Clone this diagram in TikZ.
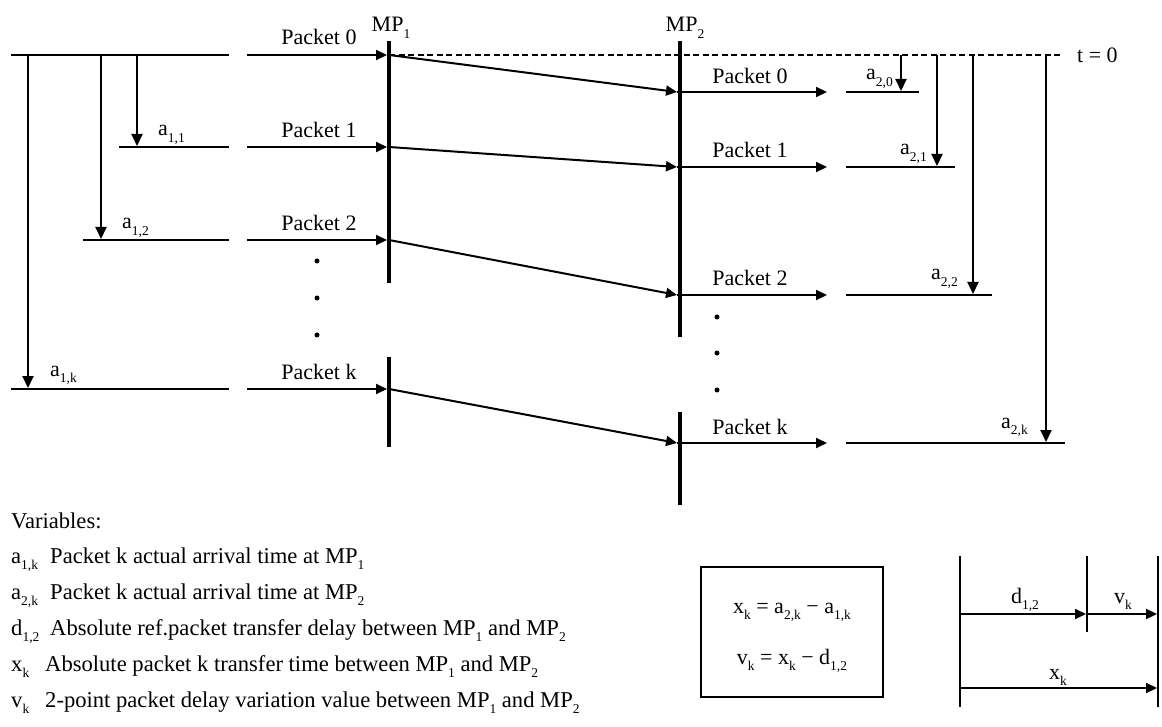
\documentclass[tikz,border=0pt]{standalone}
\usepackage{fontspec}
\setmainfont{Liberation Serif}
\usetikzlibrary{arrows.meta}
\newcommand\sbs[1]{\raisebox{-0.3em}{\fontsize{13.5}{13.5}\selectfont #1}}
\begin{document}
\begin{tikzpicture}[x=1pt,y=-1pt,
  txt/.style={font=\fontsize{22}{26}\selectfont, inner sep=0pt},
  vtxt/.style={font=\fontsize{22.6}{26}\selectfont, inner sep=0pt},
  tline/.style={line width=2.6pt},
  mpline/.style={line width=4.6pt},
  parrow/.style={line width=2pt,-{Triangle[length=11pt,width=10pt]}},
  varrow/.style={line width=2pt,-{Triangle[length=12pt,width=11pt]}},
  tdash/.style={line width=2pt,dash pattern=on 6pt off 3.5pt},
  dotn/.style={circle,fill,inner sep=0pt,minimum size=5pt},
  boxline/.style={line width=2.4pt}]
\useasboundingbox (0,0) rectangle (1162,727);

% ---------- left (MP1 side) timelines ----------
\coordinate (l0a) at (11,55);  \coordinate (l0b) at (229,55);
\coordinate (l1a) at (119,147); \coordinate (l1b) at (229,147);
\coordinate (l2a) at (83,240);  \coordinate (l2b) at (229,240);
\coordinate (lka) at (11,389);  \coordinate (lkb) at (229,389);
\draw[tline] (l0a) -- (l0b);
\draw[tline] (l1a) -- (l1b);
\draw[tline] (l2a) -- (l2b);
\draw[tline] (lka) -- (lkb);

\coordinate (v1s) at (137,55); \coordinate (v1e) at (137,146);
\coordinate (v2s) at (101,55); \coordinate (v2e) at (101,239);
\coordinate (vks) at (28,55);  \coordinate (vke) at (28,388);
\draw[varrow] (v1s) -- (v1e);
\draw[varrow] (v2s) -- (v2e);
\draw[varrow] (vks) -- (vke);
\node[txt,anchor=base west] (a11) at (158,136) {a\sbs{1,1}};
\node[txt,anchor=base west] (a12) at (122,229) {a\sbs{1,2}};
\node[txt,anchor=base west] (a1k) at (50,376) {a\sbs{1,k}};

% ---------- MP1 ----------
\coordinate (mp1t) at (389,41);  \coordinate (mp1m) at (389,283);
\coordinate (mp1n) at (389,357); \coordinate (mp1b) at (389,447);
\draw[mpline] (mp1t) -- (mp1m);
\draw[mpline] (mp1n) -- (mp1b);
\node[txt,anchor=base] (mp1) at (391,32) {MP\sbs{1}};
\coordinate (m10) at (389,55);  \coordinate (m11) at (389,147);
\coordinate (m12) at (389,240); \coordinate (m1k) at (389,389);

\coordinate (p0s) at (247,55);  \coordinate (p0e) at (387,55);
\coordinate (p1s) at (247,147); \coordinate (p1e) at (387,147);
\coordinate (p2s) at (247,240); \coordinate (p2e) at (387,240);
\coordinate (pks) at (247,389); \coordinate (pke) at (387,389);
\draw[parrow] (p0s) -- (p0e);
\draw[parrow] (p1s) -- (p1e);
\draw[parrow] (p2s) -- (p2e);
\draw[parrow] (pks) -- (pke);
\node[txt,anchor=base] (pk0) at (319,45) {Packet 0};
\node[txt,anchor=base] (pk1) at (319,138) {Packet 1};
\node[txt,anchor=base] (pk2) at (319,231) {Packet 2};
\node[txt,anchor=base] (pkk) at (319,379) {Packet k};
\node[dotn] (d1a) at (317,261) {};
\node[dotn] (d1b) at (317,298) {};
\node[dotn] (d1c) at (317,335) {};

% ---------- MP2 ----------
\coordinate (mp2t) at (680,41);  \coordinate (mp2m) at (680,337);
\coordinate (mp2n) at (680,412); \coordinate (mp2b) at (680,505);
\draw[mpline] (mp2t) -- (mp2m);
\draw[mpline] (mp2n) -- (mp2b);
\node[txt,anchor=base] (mp2) at (685,32) {MP\sbs{2}};
\coordinate (m20) at (677,92);  \coordinate (m21) at (677,167);
\coordinate (m22) at (677,295); \coordinate (m2k) at (677,443);
\draw[parrow] (m10) -- (m20);
\draw[parrow] (m11) -- (m21);
\draw[parrow] (m12) -- (m22);
\draw[parrow] (m1k) -- (m2k);

\coordinate (q0e) at (827,92);  \coordinate (q1e) at (827,167);
\coordinate (q2e) at (827,295); \coordinate (qke) at (827,443);
\draw[parrow] (m20) -- (q0e);
\draw[parrow] (m21) -- (q1e);
\draw[parrow] (m22) -- (q2e);
\draw[parrow] (m2k) -- (qke);
\node[txt,anchor=base] (qk0) at (750,84) {Packet 0};
\node[txt,anchor=base] (qk1) at (750,158) {Packet 1};
\node[txt,anchor=base] (qk2) at (750,286) {Packet 2};
\node[txt,anchor=base] (qkk) at (750,434) {Packet k};
\node[dotn] (d2a) at (717,317) {};
\node[dotn] (d2b) at (717,353) {};
\node[dotn] (d2c) at (717,390) {};

% ---------- t = 0 reference ----------
\coordinate (t0e) at (1062,55);
\draw[tdash] (m10) -- (t0e);
\node[txt,anchor=west] (t0) at (1077,55) {t = 0};

% ---------- right (MP2 side) timelines ----------
\coordinate (r0a) at (846,92);  \coordinate (r0b) at (919,92);
\coordinate (r1a) at (846,167); \coordinate (r1b) at (955,167);
\coordinate (r2a) at (846,295); \coordinate (r2b) at (992,295);
\coordinate (rka) at (846,443); \coordinate (rkb) at (1065,443);
\draw[tline] (r0a) -- (r0b);
\draw[tline] (r1a) -- (r1b);
\draw[tline] (r2a) -- (r2b);
\draw[tline] (rka) -- (rkb);

\coordinate (w0s) at (901,55);  \coordinate (w0e) at (901,91);
\coordinate (w1s) at (937,55);  \coordinate (w1e) at (937,166);
\coordinate (w2s) at (973,55);  \coordinate (w2e) at (973,294);
\coordinate (wks) at (1046,55); \coordinate (wke) at (1046,442);
\draw[varrow] (w0s) -- (w0e);
\draw[varrow] (w1s) -- (w1e);
\draw[varrow] (w2s) -- (w2e);
\draw[varrow] (wks) -- (wke);
\node[txt,anchor=base west] (a20) at (866,80) {a\sbs{2,0}};
\node[txt,anchor=base west] (a21) at (900,155) {a\sbs{2,1}};
\node[txt,anchor=base west] (a22) at (931,280) {a\sbs{2,2}};
\node[txt,anchor=base west] (a2k) at (1001,428) {a\sbs{2,k}};

% ---------- variables ----------
\node[vtxt,anchor=base west] (var) at (11,528) {Variables:};
\node[vtxt,anchor=base west] (s1) at (11,563) {a\sbs{1,k}};
\node[vtxt,anchor=base west] (t1) at (50,563) {Packet k actual arrival time at MP\sbs{1}};
\node[vtxt,anchor=base west] (s2) at (11,599) {a\sbs{2,k}};
\node[vtxt,anchor=base west] (t2) at (50,599) {Packet k actual arrival time at MP\sbs{2}};
\node[vtxt,anchor=base west] (s3) at (11,635) {d\sbs{1,2}};
\node[vtxt,anchor=base west] (t3) at (50,635) {Absolute ref.packet transfer delay between MP\sbs{1} and MP\sbs{2}};
\node[vtxt,anchor=base west] (s4) at (11,671) {x\sbs{k}};
\node[vtxt,anchor=base west] (t4) at (45,671) {Absolute packet k transfer time between MP\sbs{1} and MP\sbs{2}};
\node[vtxt,anchor=base west] (s5) at (11,707) {v\sbs{k}};
\node[vtxt,anchor=base west] (t5) at (45,707) {2-point packet delay variation value between MP\sbs{1} and MP\sbs{2}};

% ---------- formula box ----------
\node[boxline,draw,minimum width=182pt,minimum height=130pt,inner sep=0pt] (fbox) at (792,632) {};
\node[txt,anchor=base] (eq1) at (792,613) {x\sbs{k} = a\sbs{2,k} − a\sbs{1,k}};
\node[txt,anchor=base] (eq2) at (792,664) {v\sbs{k} = x\sbs{k} − d\sbs{1,2}};

% ---------- delay composition ----------
\coordinate (ct) at (960,556); \coordinate (cb) at (960,707);
\coordinate (mt) at (1087,556); \coordinate (mb) at (1087,632);
\coordinate (rt) at (1158,556); \coordinate (rb) at (1158,707);
\draw[tline] (ct) -- (cb);
\draw[tline] (mt) -- (mb);
\draw[tline] (rt) -- (rb);
\coordinate (cd) at (960,614); \coordinate (md) at (1086,614);
\coordinate (mv) at (1087,614); \coordinate (rv) at (1157,614);
\coordinate (cx) at (960,688); \coordinate (rx) at (1157,688);
\draw[parrow] (cd) -- (md);
\draw[parrow] (mv) -- (rv);
\draw[parrow] (cx) -- (rx);
\node[txt,anchor=base] (dl) at (1025,603) {d\sbs{1,2}};
\node[txt,anchor=base] (vl) at (1123,603) {v\sbs{k}};
\node[txt,anchor=base] (xl) at (1058,679) {x\sbs{k}};
\end{tikzpicture}
\end{document}
